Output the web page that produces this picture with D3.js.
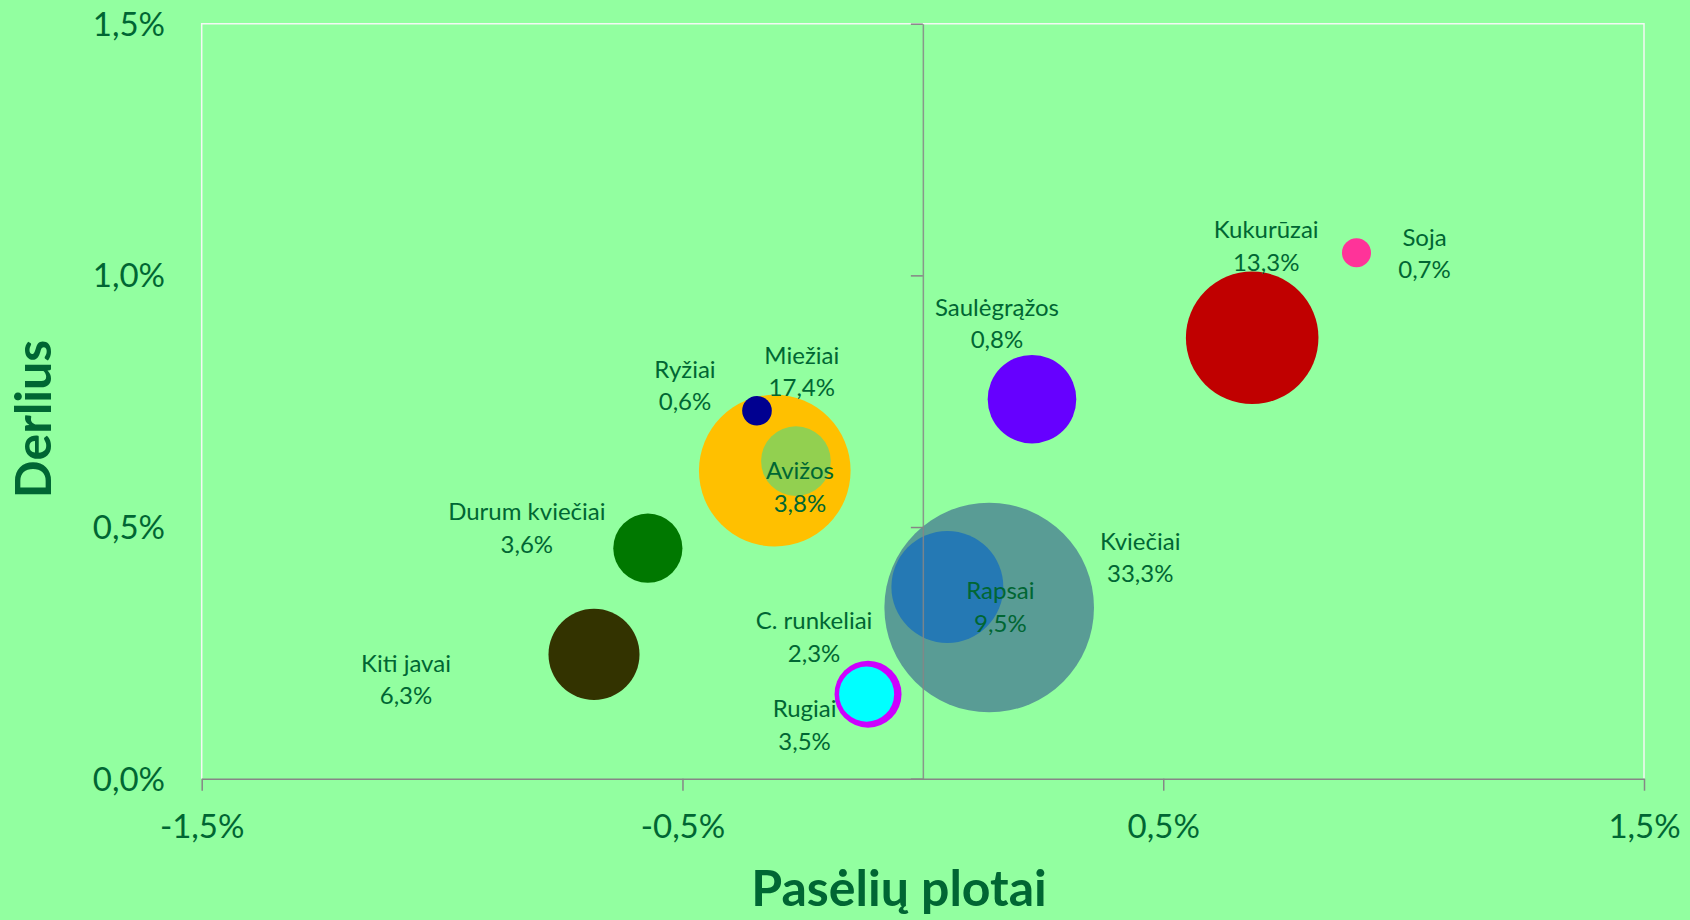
<!DOCTYPE html>
<html>
<head>
<meta charset="utf-8">
<script src="https://cdn.jsdelivr.net/npm/d3@7"></script>
<style>
  html, body { margin: 0; padding: 0; background: #92FFA0; }
  svg { display: block; }
  text { font-family: Lato, "Open Sans", sans-serif; }
</style>
</head>
<body>
<script>
// ---- data ----
const crops = ["Kviečiai", "Rapsai", "Miežiai", "Avižos", "Ryžiai", "Kukurūzai", "Soja",
               "Saulėgrąžos", "Durum kviečiai", "Kiti javai", "C. runkeliai", "Rugiai"];
const areaChange  = [0.138, 0.051, -0.308, -0.264, -0.345, 0.685, 0.902, 0.227, -0.572, -0.684, -0.114, -0.117]; // % (x)
const yieldChange = [0.340, 0.381, 0.612, 0.631, 0.731, 0.876, 1.045, 0.754, 0.458, 0.247, 0.168, 0.168];     // % (y)
const bubbleSize  = [23.5, 6.7, 12.3, 2.6, 0.47, 9.4, 0.45, 4.2, 2.56, 4.43, 2.4, 1.62];
const shareValues = [33.3, 9.5, 17.4, 3.8, 0.6, 13.3, 0.7, 0.8, 3.6, 6.3, 2.3, 3.5];
const xTicks = [-1.5, -0.5, 0.5, 1.5];
const yTicks = [0, 0.5, 1.0, 1.5];

// ---- styles / layout ----
const colors = ["#599C95", "#2579B4", "#FFC000", "#92D050", "#000090", "#C00000", "#FF3399",
                "#6600FF", "#007800", "#333300", "#CC00FF", "#00FFFF"];
const labelOffset = { // label block centre relative to bubble centre (px)
  "Kviečiai": [151, -50], "Rapsai": [53, 20], "Miežiai": [27, -99], "Avižos": [4, 26],
  "Ryžiai": [-72, -25], "Kukurūzai": [14, -92], "Soja": [68, 1], "Saulėgrąžos": [-35, -76],
  "Durum kviečiai": [-121, -20], "Kiti javai": [-188, 25], "C. runkeliai": [-54, -57], "Rugiai": [-62, 31]
};

const W = 1690, H = 920;
const textColor = "#006633";
const loc = d3.formatLocale({decimal: ",", thousands: " ", grouping: [3], currency: ["", ""], minus: "-"});
const fmt = v => loc.format(".1f")(v) + "%";

const svg = d3.select("body").append("svg").attr("width", W).attr("height", H);
svg.append("rect").attr("width", W).attr("height", H).attr("fill", "#92FFA0");

const x = d3.scaleLinear().domain([-1.5, 1.5]).range([201.7, 1644]);
const y = d3.scaleLinear().domain([0, 1.5]).range([778.7, 23.7]);
const r = d3.scaleSqrt().domain([0, 23.5]).range([0, 104.8]);

// plot-area border (white, left/top/right)
svg.append("path")
  .attr("d", `M${x(-1.5)},${y(0)}V${y(1.5)}H${x(1.5)}V${y(0)}`)
  .attr("fill", "none").attr("stroke", "#F4F8F4").attr("stroke-width", 1.5);

const data = crops.map((c, i) => ({name: c, x: areaChange[i], y: yieldChange[i], s: bubbleSize[i], share: shareValues[i], color: colors[i]}));

// bubbles
svg.append("g").selectAll("circle").data(data).join("circle")
  .attr("cx", d => x(d.x)).attr("cy", d => y(d.y)).attr("r", d => r(d.s))
  .attr("fill", d => d.color);

// axes
const axisColor = "#868686";
const xAxis = svg.append("g").attr("transform", `translate(0,${y(0)})`)
  .call(d3.axisBottom(x).tickValues(xTicks).tickSize(12).tickSizeOuter(0).tickFormat(fmt));
xAxis.select(".domain").attr("stroke", axisColor).attr("stroke-width", 1.5);
xAxis.selectAll(".tick line").attr("stroke", axisColor).attr("stroke-width", 1.5);
xAxis.selectAll(".tick text").attr("y", 48).attr("dy", "0.35em")
  .attr("fill", textColor).attr("font-size", 33).attr("font-family", "Lato");

const yAxis = svg.append("g").attr("transform", `translate(${x(0)},0)`)
  .call(d3.axisLeft(y).tickValues(yTicks).tickSize(12).tickSizeOuter(0).tickFormat(""));
yAxis.select(".domain").attr("stroke", axisColor).attr("stroke-width", 1.5).attr("stroke-opacity", 0.85);
yAxis.selectAll(".tick line").attr("stroke", axisColor).attr("stroke-width", 1.5);

const yLabels = svg.append("g").attr("transform", `translate(165,0)`)
  .call(d3.axisLeft(y).tickValues(yTicks).tickSize(0).tickPadding(0).tickFormat(fmt));
yLabels.select(".domain").remove();
yLabels.selectAll(".tick text").attr("fill", textColor).attr("font-size", 33).attr("font-family", "Lato").attr("dy", "0.35em");

// data labels
const lab = svg.append("g").attr("fill", textColor).attr("font-size", 24).attr("text-anchor", "middle");
data.forEach(d => {
  const off = labelOffset[d.name];
  const cx = x(d.x) + off[0], cy = y(d.y) + off[1];
  const t = lab.append("text").attr("x", cx).attr("y", cy);
  t.append("tspan").attr("x", cx).attr("dy", "-0.32em").text(d.name);
  t.append("tspan").attr("x", cx).attr("dy", "1.35em").text(fmt(d.share));
});

// axis titles
svg.append("text").attr("x", 899).attr("y", 906).attr("text-anchor", "middle")
  .attr("font-size", 50).attr("font-weight", "bold").attr("fill", textColor).text("Pasėlių plotai");
svg.append("text").attr("transform", "translate(51,419) rotate(-90)").attr("text-anchor", "middle")
  .attr("font-size", 50).attr("font-weight", "bold").attr("fill", textColor).text("Derlius");
</script>
</body>
</html>
